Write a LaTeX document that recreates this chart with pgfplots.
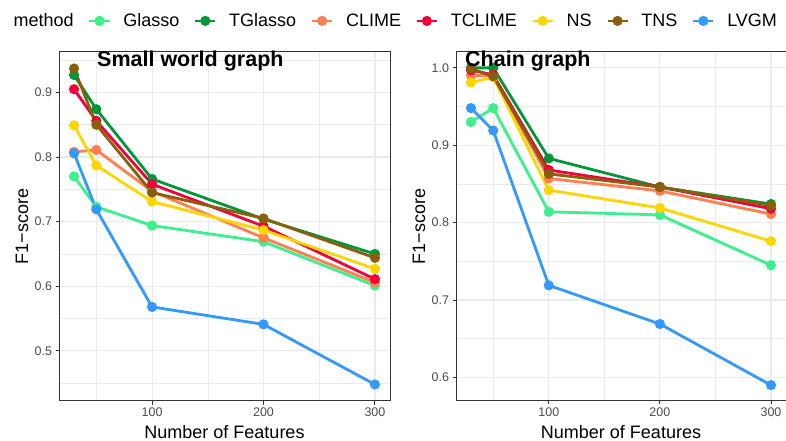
\documentclass[border=0pt]{standalone}
\usepackage{fontspec}
\setmainfont{Liberation Sans}
\usepackage{pgfplots}
\pgfplotsset{compat=1.18}

\definecolor{cGlasso}{RGB}{60,240,140}
\definecolor{cTGlasso}{RGB}{0,150,58}
\definecolor{cCLIME}{RGB}{255,127,80}
\definecolor{cTCLIME}{RGB}{242,0,58}
\definecolor{cNS}{RGB}{255,213,0}
\definecolor{cTNS}{RGB}{139,95,10}
\definecolor{cLVGM}{RGB}{51,153,255}

\pgfplotsset{
  panel/.style={
    scale only axis, height=349pt,
    xmin=16.5, xmax=313.5,
    xtick={100,200,300}, minor xtick={50,150,250},
    grid=both,
    major grid style={color=black!8, line width=1.1pt},
    minor grid style={color=black!8, line width=0.55pt},
    axis line style={color=black!80, line width=1pt},
    tick style={color=black!80, line width=1pt},
    major tick length=3.5pt, minor tick length=0pt,
    tick align=outside, tick pos=left,
    /pgf/number format/assume math mode=true,
    ticklabel style={font=\fontsize{12.5}{14}\selectfont, color=black!70},
    yticklabel style={/pgf/number format/.cd, fixed, fixed zerofill, precision=1},
    label style={font=\fontsize{18}{20}\selectfont},
    xlabel={Number of Features}, ylabel={F1−score},
    xlabel style={at={(axis description cs:0.5,-0.089)}, anchor=center},
    ylabel style={at={(axis description cs:-0.112,0.5)}, anchor=center},
    every axis plot/.append style={line width=2.8pt, mark=*, mark size=3.6pt, mark options={solid}},
    legend image code/.code={\draw[##1, mark repeat=2, mark phase=2] plot coordinates {(0pt,0pt) (10pt,0pt) (20pt,0pt)};},
  },
}

\begin{document}
\begin{tikzpicture}
\useasboundingbox (0,0) rectangle (786pt,441pt);

\begin{axis}[panel, name=left, at={(59pt,40pt)}, anchor=south west, width=331pt,
  ymin=0.4224, ymax=0.9626,
  ytick={0.5,0.6,0.7,0.8,0.9}, minor ytick={0.45,0.55,0.65,0.75,0.85,0.95},
  legend columns=8,
  legend style={draw=none, fill=none, at={(axis description cs:1.0,1.089)}, anchor=center,
    font=\fontsize{18}{20}\selectfont,
    /tikz/every odd column/.append style={column sep=10.5pt},
    /tikz/every even column/.append style={column sep=12.5pt}},
  ]
\addlegendimage{empty legend}
\addplot[cGlasso] coordinates {(30,0.770) (50,0.723) (100,0.694) (200,0.669) (300,0.601)};
\addplot[cTGlasso] coordinates {(30,0.927) (50,0.874) (100,0.766) (200,0.704) (300,0.650)};
\addplot[cCLIME] coordinates {(30,0.808) (50,0.811) (100,0.747) (200,0.675) (300,0.606)};
\addplot[cTCLIME] coordinates {(30,0.905) (50,0.856) (100,0.758) (200,0.693) (300,0.611)};
\addplot[cNS] coordinates {(30,0.849) (50,0.787) (100,0.731) (200,0.687) (300,0.627)};
\addplot[cTNS] coordinates {(30,0.937) (50,0.850) (100,0.745) (200,0.705) (300,0.644)};
\addplot[cLVGM] coordinates {(30,0.806) (50,0.719) (100,0.568) (200,0.541) (300,0.448)};
\legend{method,Glasso,TGlasso,CLIME,TCLIME,NS,TNS,LVGM}
\end{axis}
\node[anchor=base west, font=\bfseries\fontsize{21.5}{24}\selectfont, inner sep=0pt]
  at ([xshift=38pt,yshift=-15pt]left.north west) {Small world graph};

\begin{axis}[panel, name=right, at={(456pt,40pt)}, anchor=south west, width=330pt,
  ymin=0.5695, ymax=1.0205,
  ytick={0.6,0.7,0.8,0.9,1.0}, minor ytick={0.65,0.75,0.85,0.95},
  ]
\addplot[cGlasso] coordinates {(30,0.930) (50,0.948) (100,0.814) (200,0.810) (300,0.745)};
\addplot[cTGlasso] coordinates {(30,1.000) (50,1.000) (100,0.883) (200,0.846) (300,0.824)};
\addplot[cCLIME] coordinates {(30,0.990) (50,0.990) (100,0.857) (200,0.841) (300,0.811)};
\addplot[cTCLIME] coordinates {(30,0.997) (50,0.991) (100,0.868) (200,0.846) (300,0.818)};
\addplot[cNS] coordinates {(30,0.981) (50,0.988) (100,0.842) (200,0.819) (300,0.776)};
\addplot[cTNS] coordinates {(30,0.999) (50,0.989) (100,0.863) (200,0.846) (300,0.822)};
\addplot[cLVGM] coordinates {(30,0.948) (50,0.919) (100,0.719) (200,0.669) (300,0.590)};
\end{axis}
\node[anchor=base west, font=\bfseries\fontsize{21.5}{24}\selectfont, inner sep=0pt]
  at ([xshift=9pt,yshift=-15pt]right.north west) {Chain graph};
\end{tikzpicture}
\end{document}
